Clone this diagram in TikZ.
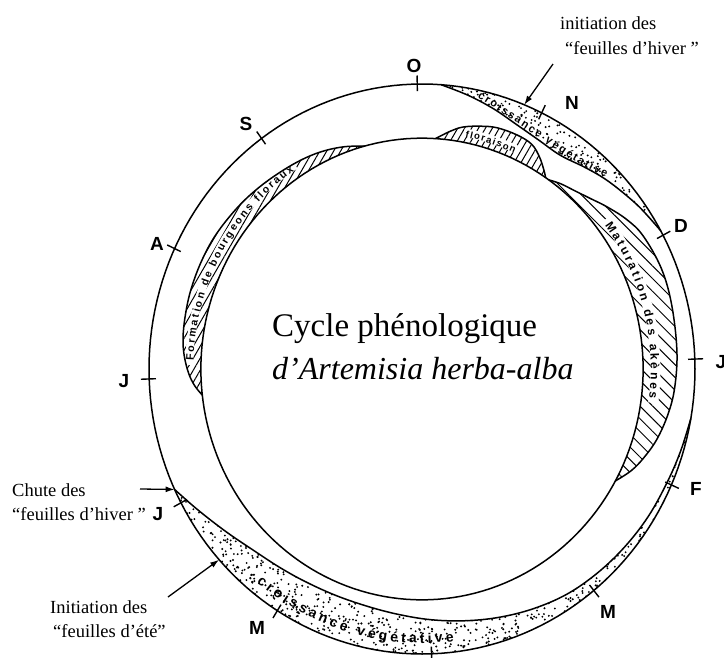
\documentclass[tikz,border=0pt]{standalone}
\usepackage{fontspec}
\setmainfont{Liberation Serif}
\setsansfont{Liberation Sans}
\usetikzlibrary{arrows.meta,patterns.meta,decorations.text}
\newcommand\bandfont{\sffamily\bfseries\fontsize{11}{11}\selectfont}
\newcommand\bandfontM{\sffamily\bfseries\fontsize{12}{12}\selectfont}
\newcommand\bandfontL{\sffamily\bfseries\fontsize{14}{14}\selectfont}
\newcommand\bandfontF{\sffamily\bfseries\fontsize{10.5}{10.5}\selectfont}
\newcommand\bandfontS{\sffamily\bfseries\fontsize{9.5}{9.5}\selectfont}
\begin{document}
\begin{tikzpicture}[x=1pt,y=-1pt,
  curve/.style={line width=1.5pt, line join=round},
  tickmark/.style={line width=1.4pt},
  month/.style={font=\sffamily\bfseries\fontsize{19}{19}\selectfont, inner sep=0pt},
  note/.style={font=\fontsize{18.5}{21}\selectfont, inner sep=0pt, anchor=base west},
  pointer/.style={line width=1.3pt, -{Latex[length=9pt,width=6pt]}},
  hatchA/.style={pattern={Lines[angle=60,distance=6pt,line width=1pt]}},
  hatchB/.style={pattern={Lines[angle=-45,distance=9pt,line width=1pt]}},
  strip/.style={white, line width=8pt},
]
\useasboundingbox (0,0) rectangle (724,657);
\fill[white] (0,0) rectangle (724,657);
\begin{scope}[shift={(422,369)}, x=273pt, y=285pt]
  % ---- hatched bands ----
  \fill[hatchA] plot[smooth, tension=0.6] coordinates {(105:0.81) (110:0.83) (115:0.845) (120:0.855) (126:0.863) (133:0.873) (140:0.882) (148:0.89) (155:0.892) (162:0.891) (168:0.887) (173:0.882) (177:0.872) (181:0.855) (184:0.835) (186.5:0.81)}
     -- plot[domain=186.5:105, samples=40, variable=\t] (\t:0.81) -- cycle;
  \fill[hatchB] plot[smooth, tension=0.6] coordinates {(55:0.81) (52:0.825) (48:0.84) (44:0.86) (40:0.885) (35:0.915) (30:0.935) (22:0.945) (14:0.942) (4:0.936) (-4:0.928) (-10:0.915) (-16:0.895) (-21:0.87) (-25:0.845) (-29:0.81)}
     -- plot[domain=-29:55, samples=40, variable=\t] (\t:0.81) -- cycle;
  \fill[hatchA] plot[smooth, tension=0.6] coordinates {(86.5:0.81) (83:0.84) (80:0.862) (76:0.878) (72:0.89) (67:0.892) (63:0.885) (60:0.86) (57.5:0.83) (56:0.81)}
     -- plot[domain=56:86.5, samples=20, variable=\t] (\t:0.81) -- cycle;
  % white strips under texts
  \draw[strip] plot[domain=179:123, samples=40, variable=\t] (\t:0.853);
  \draw[strip, line width=10pt] plot[domain=38:-8, samples=40, variable=\t] (\t:0.855);
  \draw[strip] plot[domain=79.5:65, samples=20, variable=\t] (\t:0.845);
  % ---- dotted bands ----
  \pgfmathsetseed{4711}
  \begin{scope}
    \clip plot[smooth, tension=0.6] coordinates {(86:1) (80:0.975) (74:0.95) (68:0.925) (62:0.91) (56:0.905) (50:0.925) (45:0.945) (40:0.962) (35:0.98) (29:1)}
       -- plot[domain=29:86, samples=30, variable=\t] (\t:1) -- cycle;
    \foreach \i in {1,...,250}{
      \pgfmathsetmacro{\ta}{29+57*rnd}\pgfmathsetmacro{\rr}{0.89+0.11*rnd}
      \fill (\ta:\rr) circle[radius=1.05pt];}
  \end{scope}
  \begin{scope}
    \clip plot[smooth, tension=0.6] coordinates {(-155:1) (-150:0.965) (-145:0.935) (-140:0.91) (-134:0.886) (-127:0.87) (-120:0.86) (-112:0.855) (-104:0.856) (-96:0.865) (-88:0.88) (-80:0.897) (-72:0.916) (-64:0.935) (-56:0.952) (-48:0.962) (-40:0.97) (-32:0.977) (-24:0.982) (-17:0.99) (-10:1)}
       -- plot[domain=-10:-155, samples=60, variable=\t] (\t:1) -- cycle;
    \foreach \i in {1,...,950}{
      \pgfmathsetmacro{\ta}{-155+145*rnd}\pgfmathsetmacro{\rr}{0.84+0.16*rnd}
      \fill (\ta:\rr) circle[radius=1.05pt];}
  \end{scope}
  % ---- main curves ----
  \draw[curve] plot[domain=0:360, samples=181, variable=\t] (\t:1) -- cycle;
  \draw[curve] plot[domain=0:360, samples=181, variable=\t] (\t:0.81) -- cycle;
  \draw[curve] plot[smooth, tension=0.6] coordinates {(86:1) (80:0.975) (74:0.95) (68:0.925) (62:0.91) (56:0.905) (50:0.925) (45:0.945) (40:0.962) (35:0.98) (29:1)};
  \draw[curve] plot[smooth, tension=0.6] coordinates {(-155:1) (-150:0.965) (-145:0.935) (-140:0.91) (-134:0.886) (-127:0.87) (-120:0.86) (-112:0.855) (-104:0.856) (-96:0.865) (-88:0.88) (-80:0.897) (-72:0.916) (-64:0.935) (-56:0.952) (-48:0.962) (-40:0.97) (-32:0.977) (-24:0.982) (-17:0.99) (-10:1)};
  \draw[curve] plot[smooth, tension=0.6] coordinates {(105:0.81) (110:0.83) (115:0.845) (120:0.855) (126:0.863) (133:0.873) (140:0.882) (148:0.89) (155:0.892) (162:0.891) (168:0.887) (173:0.882) (177:0.872) (181:0.855) (184:0.835) (186.5:0.81)};
  \draw[curve] plot[smooth, tension=0.6] coordinates {(55:0.81) (52:0.825) (48:0.84) (44:0.86) (40:0.885) (35:0.915) (30:0.935) (22:0.945) (14:0.942) (4:0.936) (-4:0.928) (-10:0.915) (-16:0.895) (-21:0.87) (-25:0.845) (-29:0.81)};
  \draw[curve] plot[smooth, tension=0.6] coordinates {(86.5:0.81) (83:0.84) (80:0.862) (76:0.878) (72:0.89) (67:0.892) (63:0.885) (60:0.86) (57.5:0.83) (56:0.81)};
  % ---- month ticks ----
  \foreach \a in {91,64,28,2,-24,-51,-88,-122,-152,182,155,126}
    \draw[tickmark] (\a:0.975) -- (\a:1.03);
  % ---- arrow targets ----
  \coordinate (tipHiver) at (68:1.0);
  \coordinate (tipChute) at (-155:1.0);
  \coordinate (tipEte) at (-138:1.0);
\end{scope}
% ---- band texts (pixel coordinates, polylines) ----
\path[decorate, decoration={text along path, text={|\bandfont|croissance végétative}, text align={fit to path}}]
  plot[domain=78:45, samples=34, variable=\t]
  ({422+273*(0.914+(\t>57 ? 0.000136 : 0.00026)*(\t-57)^2)*cos(\t)}, {369-285*(0.914+(\t>57 ? 0.000136 : 0.00026)*(\t-57)^2)*sin(\t)});
\path[decorate, decoration={text along path, text={|\bandfontL|croissance végétative}, text align={fit to path}}]
  plot[domain=-129:-83, samples=40, variable=\t] ({422+273*0.962*cos(\t)}, {369-285*0.962*sin(\t)});
\path[decorate, decoration={text along path, text={|\bandfontF|Formation de bourgeons floraux}, text align={fit to path}}]
  plot[domain=178:124, samples=45, variable=\t] ({422+273*0.838*cos(\t)}, {369-285*0.838*sin(\t)});
\path[decorate, decoration={text along path, text={|\bandfontM|Maturation des akènes}, text align={fit to path}}]
  plot[domain=37:-7, samples=40, variable=\t] ({422+273*0.838*cos(\t)}, {369-285*0.838*sin(\t)});
\path[decorate, decoration={text along path, text={|\bandfontS|floraison}, text align={fit to path}}]
  plot[domain=79:66, samples=14, variable=\t] ({422+273*0.829*cos(\t)}, {369-285*0.829*sin(\t)});
% ---- month labels ----
\node[month] (lO) at (414,66) {O};
\node[month] (lN) at (572,103) {N};
\node[month] (lD) at (681,226) {D};
\node[month] (lJa) at (721,362) {J};
\node[month] (lF) at (696,489) {F};
\node[month] (lMa) at (608,612) {M};
\node[month] (lMb) at (257,628) {M};
\node[month] (lJb) at (158,514) {J};
\node[month] (lJc) at (124,381) {J};
\node[month] (lA) at (157,244) {A};
\node[month] (lS) at (246,124) {S};
% ---- title ----
\node[anchor=base west, inner sep=0pt, font=\fontsize{33}{36}\selectfont] (title1) at (272,336) {Cycle phénologique};
\node[anchor=base west, inner sep=0pt, font=\itshape\fontsize{32}{36}\selectfont] (title2) at (272,379) {d’Artemisia herba-alba};
% ---- annotations ----
\node[note] (n1a) at (560,29) {initiation des};
\node[note] (n1b) at (565,54) {“feuilles d’hiver ”};
\node[note] (n2a) at (12,496) {Chute des};
\node[note] (n2b) at (12,520) {“feuilles d’hiver ”};
\node[note] (n3a) at (50,613) {Initiation des};
\node[note] (n3b) at (53,637) {“feuilles d’été”};
\coordinate (tailHiver) at (553,64);
\coordinate (tailChute) at (140,489);
\coordinate (tailEte) at (168,597);
\draw[pointer] (tailHiver) -- (tipHiver);
\draw[pointer] (tailChute) -- (tipChute);
\draw[pointer] (tailEte) -- (tipEte);
\end{tikzpicture}
\end{document}
